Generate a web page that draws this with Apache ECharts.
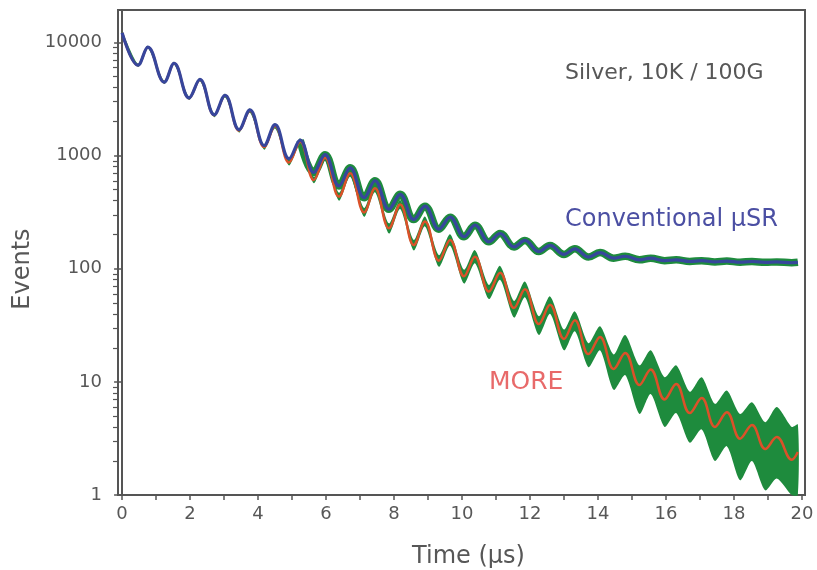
<!DOCTYPE html>
<html>
<head>
<meta charset="utf-8">
<script src="https://cdn.jsdelivr.net/npm/echarts@6/dist/echarts.min.js"></script>
<style>
  html, body { margin: 0; padding: 0; background: #fff; }
  #main { width: 817px; height: 570px; }
</style>
</head>
<body>
<div id="main"></div>
<script>
// peak / trough times of the precession signal (µs)
var times = [0.00, 0.47, 0.76, 1.24, 1.53, 1.97, 2.29, 2.71, 3.03, 3.44, 3.76, 4.18, 4.50, 4.91,
  5.24, 5.64, 5.97, 6.38, 6.71, 7.12, 7.44, 7.85, 8.18, 8.58, 8.91, 9.32, 9.65, 10.06,
  10.38, 10.79, 11.12, 11.53, 11.85, 12.26, 12.59, 13.00, 13.32, 13.72, 14.06, 14.46, 14.80, 15.22,
  15.55, 15.96, 16.30, 16.70, 17.05, 17.44, 17.79, 18.18, 18.53, 18.92, 19.26, 19.70, 19.88];

// fitted curve, MORE (red)
var moreFit = [12200, 6300, 9100, 4450, 6550, 3220, 4700, 2280, 3400, 1670, 2500, 1190, 1830, 870,
  1330, 610, 960, 435, 700, 315, 515, 228, 370, 162, 262, 118, 180, 86,
  128, 63, 92, 45, 66, 32.5, 48, 24, 35, 17.6, 25, 13, 18, 9.4,
  12.9, 7.0, 9.6, 5.3, 7.2, 4.0, 5.4, 3.15, 4.15, 2.55, 3.25, 2.05, 2.4];

// fitted curve, conventional µSR (blue)
var convFit = [12200, 6310, 9100, 4460, 6560, 3240, 4720, 2300, 3420, 1700, 2540, 1230, 1880, 940,
  1370, 710, 1020, 540, 780, 425, 600, 336, 455, 272, 358, 224, 286, 192,
  243, 173, 205, 156, 178, 142, 161, 134, 150, 127, 139, 124, 129, 120,
  124, 118, 120, 116, 118, 115, 117, 114.5, 116, 114, 115, 113, 114];

// spread of the MORE measured events (green band), upper and lower edge
var moreHigh = [12500, 6500, 9350, 4600, 6750, 3330, 4860, 2370, 3530, 1740, 2610, 1250, 1920, 920,
  1420, 650, 1030, 470, 760, 345, 560, 252, 405, 180, 290, 132, 202, 98,
  146, 72, 106, 52, 77, 38, 57, 29, 42, 22, 31, 17.5, 26, 14,
  19, 11, 14, 8.2, 11, 6.4, 8.4, 5.2, 6.6, 4.4, 6.0, 4.0, 4.2];
var moreLow = [11900, 6100, 8850, 4300, 6350, 3110, 4540, 2190, 3270, 1600, 2390, 1130, 1740, 820,
  1250, 570, 900, 400, 650, 288, 475, 205, 338, 145, 237, 104, 160, 74,
  112, 54, 80, 37, 56, 26, 40, 19, 28, 13.5, 19, 8.5, 11.5, 5.2,
  7.8, 4.0, 5.3, 2.9, 3.8, 2.0, 2.7, 1.35, 2.0, 1.1, 1.4, 1.0, 1.0];

var xTicks = [0, 1, 2, 3, 4, 5, 6, 7, 8, 9, 10, 11, 12, 13, 14, 15, 16, 17, 18, 19, 20];
var xLabels = [0, 2, 4, 6, 8, 10, 12, 14, 16, 18, 20];
var yMinor = [2, 3, 4, 5, 6, 7, 8, 9, 20, 30, 40, 50, 60, 70, 80, 90,
  200, 300, 400, 500, 600, 700, 800, 900, 2000, 3000, 4000, 5000, 6000, 7000, 8000, 9000];

var convStart = 14; // green data of the conventional run shows from ~5 µs

function pairs(xs, ys) {
  return xs.map(function (x, i) { return [x, ys[i]]; });
}

var font = 'DejaVu Sans';
var grey = '#575757';
var green = '#1e8b3d';

var myChart = echarts.init(document.getElementById('main'));
var option = {
  animation: false,
  backgroundColor: '#fff',
  grid: {
    left: 118, right: 12, top: 10, bottom: 75,
    outerBoundsMode: 'none',
    show: true, borderColor: '#555', borderWidth: 2
  },
  xAxis: {
    type: 'value',
    min: -0.12,
    max: 20.09,
    axisLine: { onZero: false, lineStyle: { color: '#555', width: 2 } },
    axisTick: { customValues: xTicks, length: 5, lineStyle: { color: '#555', width: 1.5 } },
    axisLabel: { customValues: xLabels, margin: 10, color: grey, fontFamily: font, fontSize: 18 },
    splitLine: { show: false },
    name: 'Time (µs)',
    nameLocation: 'middle',
    nameGap: 50,
    nameTextStyle: { color: grey, fontFamily: font, fontSize: 24, padding: [0, 0, 0, 14] }
  },
  yAxis: [{
    type: 'log',
    min: 1,
    max: 19400,
    axisLine: { lineStyle: { color: '#555', width: 2 } },
    axisTick: { length: 8, lineStyle: { color: '#555', width: 1.5 } },
    axisLabel: {
      margin: 16, color: grey, fontFamily: font, fontSize: 18, showMaxLabel: false,
      formatter: function (v) { return String(Math.round(v)); }
    },
    splitLine: { show: false }
  }, {
    // minor ticks 2..9 of every decade
    type: 'log',
    min: 1,
    max: 19400,
    position: 'left',
    axisLine: { show: false },
    axisTick: { customValues: yMinor, length: 5, lineStyle: { color: '#555', width: 1.2 } },
    axisLabel: { show: false },
    splitLine: { show: false }
  }],
  series: [{
    name: 'Conventional data',
    type: 'line',
    data: pairs(times.slice(convStart), convFit.slice(convStart)),
    showSymbol: false,
    smooth: 0.4,
    lineStyle: { color: green, width: 7.5 },
    z: 2
  }, {
    name: 'MORE data',
    type: 'custom',
    data: times.map(function (t, i) { return [t, moreLow[i], moreHigh[i]]; }),
    encode: { x: 0, y: [1, 2] },
    renderItem: function (params, api) {
      if (params.dataIndex !== 0) return null;
      var pts = [];
      for (var i = 0; i < times.length; i++) pts.push(api.coord([times[i], moreHigh[i]]));
      for (var j = times.length - 1; j >= 0; j--) pts.push(api.coord([times[j], moreLow[j]]));
      return {
        type: 'polygon',
        shape: { points: pts, smooth: 0.25 },
        style: { fill: green }
      };
    },
    z: 3
  }, {
    name: 'MORE fit',
    type: 'line',
    data: pairs(times, moreFit),
    showSymbol: false,
    smooth: 0.4,
    lineStyle: { color: '#db5129', width: 2.5 },
    z: 4
  }, {
    name: 'Conventional fit',
    type: 'line',
    data: pairs(times, convFit),
    showSymbol: false,
    smooth: 0.4,
    lineStyle: { color: '#37469c', width: 3.2 },
    z: 5
  }],
  graphic: [{
    type: 'text', x: 565, y: 73, z: 10,
    style: { text: 'Silver, 10K / 100G', font: '22px "DejaVu Sans"', fill: grey,
      align: 'left', verticalAlign: 'middle', textAlign: 'left', textVerticalAlign: 'middle' }
  }, {
    type: 'text', x: 565, y: 220, z: 10,
    style: { text: 'Conventional µSR', font: '24px "DejaVu Sans"', fill: '#4b4fa3',
      align: 'left', verticalAlign: 'middle', textAlign: 'left', textVerticalAlign: 'middle' }
  }, {
    type: 'text', x: 489, y: 382, z: 10,
    style: { text: 'MORE', font: '25px "DejaVu Sans"', fill: '#e86a6a',
      align: 'left', verticalAlign: 'middle', textAlign: 'left', textVerticalAlign: 'middle' }
  }, {
    type: 'text', x: 23, y: 269, z: 10, rotation: Math.PI / 2,
    style: { text: 'Events', font: '24px "DejaVu Sans"', fill: grey,
      align: 'center', verticalAlign: 'middle', textAlign: 'center', textVerticalAlign: 'middle' }
  }]
};
option && myChart.setOption(option);
</script>
</body>
</html>
